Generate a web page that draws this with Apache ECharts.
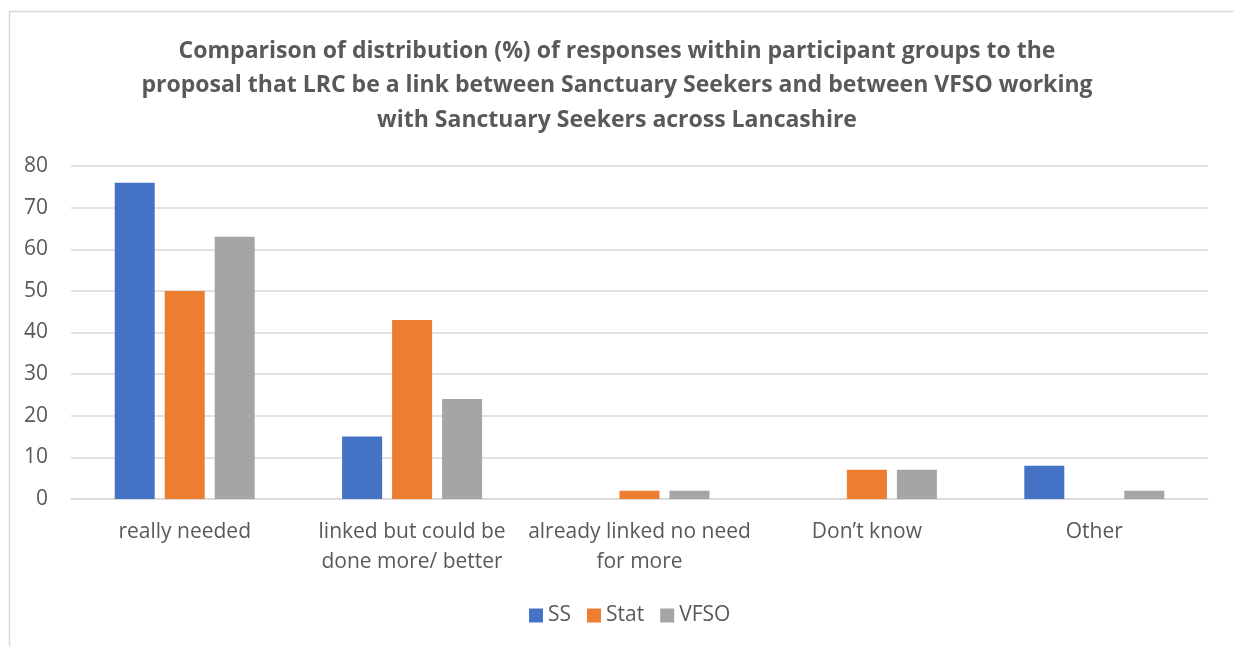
<!DOCTYPE html>
<html>
<head>
<meta charset="utf-8">
<script src="https://cdn.jsdelivr.net/npm/echarts@6/dist/echarts.min.js"></script>
<style>
  html, body { margin: 0; padding: 0; background: #fff; }
  #echart { width: 1234px; height: 646px; }
</style>
</head>
<body>
<div id="echart"></div>
<script>
// data
let categories = ['really needed', 'linked but could be\ndone more/ better', 'already linked no need\nfor more', 'Don\u2019t know', 'Other']
let ssValues = [76, 15, 0, 0, 8]
let statValues = [50, 43, 2, 7, 0]
let vfsoValues = [63, 24, 2, 7, 2]
let yTicks = [0, 10, 20, 30, 40, 50, 60, 70, 80]

let font = '"Open Sans", "Noto Sans", sans-serif'
let textGray = '#595959'

let echart = echarts.init(document.getElementById('echart'))

let option = {
    animation: false,
    backgroundColor: '#fff',
    title: {
        text: 'Comparison of distribution (%) of responses within participant groups to the\nproposal that LRC be a link between Sanctuary Seekers and between VFSO working\nwith Sanctuary Seekers across Lancashire',
        left: 'center',
        top: 29,
        textStyle: {
            color: textGray,
            fontFamily: font,
            fontWeight: 'bold',
            fontSize: 23,
            lineHeight: 34.5
        }
    },
    // chart frame (only top and left edges show in the crop)
    graphic: [{
        type: 'rect',
        left: 7, top: 9,
        shape: { width: 1400, height: 800 },
        style: { fill: 'none', stroke: '#d9d9d9', lineWidth: 1.5 }
    }],
    legend: {
        top: 600,
        left: 524,
        itemWidth: 14,
        itemHeight: 14,
        itemGap: 16,
        icon: 'rect',
        textStyle: { color: textGray, fontFamily: font, fontSize: 21 },
        data: ['SS', 'Stat', 'VFSO']
    },
    grid: {
        left: 71,
        right: 26,
        top: 166,
        bottom: 147
    },
    xAxis: {
        type: 'category',
        data: categories,
        axisLine: { lineStyle: { color: '#d9d9d9', width: 1.5 } },
        axisTick: { show: false },
        axisLabel: {
            color: textGray,
            fontFamily: font,
            fontSize: 21,
            lineHeight: 30,
            margin: 18,
            interval: 0
        }
    },
    yAxis: {
        type: 'value',
        min: yTicks[0],
        max: yTicks[yTicks.length - 1],
        interval: 10,
        axisLine: { show: false },
        axisTick: { show: false },
        splitLine: { lineStyle: { color: '#d9d9d9', width: 1.5 } },
        axisLabel: { color: textGray, fontFamily: font, fontSize: 21, margin: 23 }
    },
    series: [
        { name: 'SS', type: 'bar', data: ssValues, barWidth: 40, barGap: '25%', itemStyle: { color: '#4472C4' } },
        { name: 'Stat', type: 'bar', data: statValues, barWidth: 40, barGap: '25%', itemStyle: { color: '#ED7D31' } },
        { name: 'VFSO', type: 'bar', data: vfsoValues, barWidth: 40, barGap: '25%', itemStyle: { color: '#A5A5A5' } }
    ]
}

echart.setOption(option)
</script>
</body>
</html>
